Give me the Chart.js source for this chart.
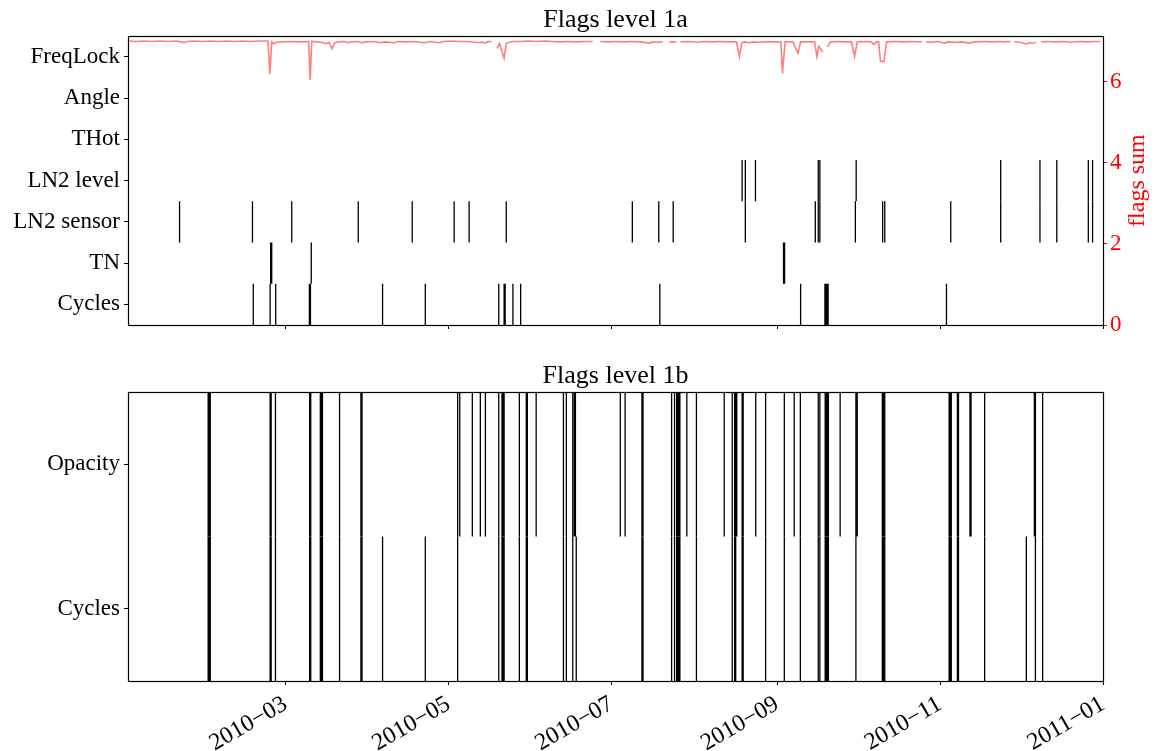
<!DOCTYPE html>
<html>
<head>
<meta charset="utf-8">
<script src="https://cdn.jsdelivr.net/npm/chart.js@4.4.1/dist/chart.umd.min.js"></script>
<style>
  html, body { margin: 0; padding: 0; background: #fff; overflow: hidden; }
  #wrap { position: relative; width: 1156px; height: 751px; }
  canvas { position: absolute; left: 0; }
  #c1 { top: 0; }
  #c2 { top: 345px; }
</style>
</head>
<body>
<div id="wrap">
  <canvas id="c1" width="1156" height="345"></canvas>
  <canvas id="c2" width="1156" height="406"></canvas>
</div>
<script>
// Time is counted in days since 2010-01-01 (the x axis runs 0 .. 365).

// Level 1a flag rows, bottom to top
const rows1a = ['Cycles', 'TN', 'LN2 sensor', 'LN2 level', 'THot', 'Angle', 'FreqLock'];
const cycles1a = [46.9, 53.2, 55.3, 67.9, 68.3, 95.3, 111.3, 138.8, 140.8, 141.2, 144.1, 147.0,
                  199.1, 251.8, 260.9, 261.3, 261.7, 262.1, 306.4];
const tn1a = [53.4, 53.8, 68.6, 245.4, 245.8];
const ln2Sensor1a = [19.3, 46.6, 61.3, 86.2, 106.4, 122.1, 127.7, 141.6, 188.8, 198.7, 204.1, 231.1,
                     257.3, 258.4, 259.0, 272.3, 282.5, 283.3, 308.0, 326.7, 341.4, 347.7, 359.5, 361.1];
const ln2Level1a = [229.9, 231.1, 234.9, 258.4, 259.0, 272.6, 326.7, 341.4, 347.7, 359.5, 361.1];
const tHot1a = [];
const angle1a = [];
const freqLock1a = [];

// Daily sum of the level 1a flags (null = no data)
const sumDays = [0.5, 3, 6, 9, 12, 15, 18, 20, 21, 22, 25, 28, 31, 34, 37, 40, 43, 46, 49, 52.4,
  53.1, 53.8, 54.6, 55.4, 58, 61, 64, 67.6, 68.2, 68.8, 71, 73.2, 74.1, 75.2, 76.4, 77.3, 79, 81,
  82.6, 83.5, 86, 87.8, 89, 92, 94.8, 96, 99.8, 101, 104, 107, 111, 113, 116.6, 118, 121, 124, 127,
  130, 131.8, 132.6, 133.5, 135, 136, 137, 138.1, 139.1, 140.8, 141.6, 142.8, 144, 147, 150, 153,
  156, 159, 162, 165, 168, 171, 174, 175.5, 176.8, 180, 183, 186, 189, 192, 195.2, 196.5, 198,
  200.2, 201.5, 202.7, 205.2, 206, 206.9, 210, 213, 216, 219, 222, 225, 227.8, 228.9, 229.8, 231,
  232.5, 234, 236, 239, 242, 244.4, 245.0, 246.0, 248.9, 250.8, 251.8, 254, 257.0, 257.9, 258.6,
  260.1, 261, 261.8, 263.0, 266, 268, 270.8, 272.0, 273.0, 276, 278.2, 279.2, 280.2, 281.0, 281.7,
  283.0, 284.0, 287, 290, 293, 296, 297.2, 298, 298.8, 301, 303, 305.7, 307, 310, 312, 315, 317,
  320, 323, 326, 328, 330.4, 331.2, 331.9, 334, 336.3, 337.5, 338.5, 340.0, 341, 341.9, 344, 347,
  350, 353, 356, 359, 362, 364.1];
const sumValues = [7.0, 6.99, 7.0, 6.99, 7.0, 6.99, 7.0, 6.98, 6.96, 6.99, 7.0, 6.99, 7.0, 6.99,
  7.0, 6.99, 7.0, 6.99, 7.0, 7.0,
  6.19, 6.98, 6.93, 6.97, 6.98, 6.99, 6.98, 6.99, 6.04, 6.99, 6.98, 6.96, 6.93, 6.97, 6.81, 6.96,
  6.98, 6.99, 6.96, 6.98, 6.99, 6.96, 6.98, 6.99, 6.96, 6.98, 6.96, 6.99, 6.98, 6.99, 6.96, 6.99,
  6.96, 6.99, 7.0, 6.99, 6.99,
  6.97, 6.96, 6.98, 6.95, 6.99, 6.99, null, 6.82, 6.94, 6.58, 6.95, 6.97, 6.99, 6.99, 7.0, 6.99,
  7.0, 6.99, 6.98, 6.99, 6.98, 6.99, 6.99, null, 6.99, 6.98, 6.99, 6.98, 6.99, 6.98, 6.95, 6.98,
  6.97,
  6.98, null, 6.98, 6.98, null, 6.98, 6.99, 6.97, 6.99, 6.98, 6.99, 6.98, 6.98, 6.62, 6.96, 6.98,
  6.96, 6.98, 6.97, 6.98, 6.98, 6.98, 6.21, 6.98, 6.98, 6.70, 6.98, 6.98, 6.98, 6.62, 6.87,
  6.73, null, 6.85, 6.98, 6.99, 6.98, 6.98, 6.62, 6.98, 6.99, 6.98, 6.92, 6.98, 6.98, 6.50,
  6.50, 6.98, 6.99, 6.98, 6.99, 6.98, 6.99, null, 6.98, 6.97, 6.99, 6.95, 6.98, 6.97, 6.98, 6.95,
  6.98,
  6.99, 6.98, 6.99, 6.98, 6.99, null, 6.98, 6.97, 6.93, 6.96, 6.94, 6.98, null, 6.98, 6.99, 6.98,
  6.99, 6.97, 6.99, 6.98, 6.99, 6.99];

// Level 1b flag rows, bottom to top
const rows1b = ['Cycles', 'Opacity'];
const cycles1b = [30.0, 30.4, 30.8, 53.2, 53.6, 55.2, 68.0, 68.4, 72.0, 72.4, 72.8, 79.2, 87.2, 87.6,
  95.3, 111.3, 123.4, 138.8, 140.0, 140.4, 140.8, 146.5, 149.1, 149.5, 163.0, 164.1, 166.5, 167.8,
  192.4, 192.8, 203.5, 204.6, 205.4, 205.8, 206.2, 206.6, 212.8, 226.2, 227.1, 227.5, 229.9, 230.3,
  238.7, 245.7, 251.7, 258.4, 259.0, 261.0, 261.4, 261.8, 262.2, 272.5, 282.4, 282.8, 283.3,
  307.4, 307.8, 308.2, 310.5, 310.9, 320.7, 336.3, 339.7, 342.4];
const opacity1b = [30.0, 30.4, 30.8, 53.2, 53.6, 55.2, 68.0, 68.4, 72.0, 72.4, 72.8, 79.2, 87.2, 87.6,
  123.4, 124.2, 128.9, 131.9, 133.8, 138.8, 140.0, 140.4, 140.8, 146.5, 149.1, 149.5, 152.8, 163.0,
  164.1, 166.5, 167.1, 167.5, 184.3, 186.1, 192.4, 192.8, 203.5, 204.6, 205.4, 205.8, 206.2, 206.6,
  209.2, 212.8, 223.2, 226.2, 227.1, 227.5, 227.9, 229.9, 230.3, 235.0, 238.7, 245.7, 249.4, 251.7,
  258.4, 259.0, 261.0, 261.4, 261.8, 262.2, 266.6, 272.5, 273.0, 282.4, 282.8, 283.3, 307.4, 307.8,
  308.2, 310.5, 310.9, 315.2, 315.6, 320.7, 339.3, 339.7, 342.4];

// Month ticks on the time axis
const monthTicks = [59, 120, 181, 243, 304, 365];
const monthLabels = ['2010\u221203', '2010\u221205', '2010\u221207', '2010\u221209', '2010\u221211', '2011\u221201'];

const FONT = '"Liberation Serif", "Times New Roman", serif';
Chart.defaults.font.family = FONT;
Chart.defaults.color = '#000';

// One vertical tick per flagged time, spanning the height of its row
function rowSegments(days, row) {
  const pts = [];
  for (const d of days) {
    pts.push({ x: d, y: row - 0.5 }, { x: d, y: row + 0.5 }, { x: d, y: null });
  }
  return pts;
}

function flagDataset(days, row) {
  return {
    type: 'line',
    data: rowSegments(days, row),
    borderColor: '#000',
    borderWidth: 1.3,
    pointRadius: 0,
    spanGaps: false,
    yAxisID: 'y',
    order: 2
  };
}

// Box around the plotting area
const framePlugin = {
  id: 'frame',
  afterDraw(chart) {
    const { ctx, chartArea: a } = chart;
    ctx.save();
    ctx.strokeStyle = '#000';
    ctx.lineWidth = 1.2;
    ctx.strokeRect(Math.round(a.left) + 0.5, Math.round(a.top) + 0.5,
                   Math.round(a.right) - Math.round(a.left), Math.round(a.bottom) - Math.round(a.top));
    ctx.restore();
  }
};

// Right-hand axis title, reading bottom to top
const rightTitlePlugin = {
  id: 'rightTitle',
  afterDraw(chart, args, opts) {
    const s = chart.scales.y2;
    if (!s || !opts.text) return;
    const { ctx } = chart;
    ctx.save();
    ctx.translate(s.right - 18, (s.top + s.bottom) / 2);
    ctx.rotate(-Math.PI / 2);
    ctx.fillStyle = opts.color;
    ctx.font = '24px ' + FONT;
    ctx.textAlign = 'center';
    ctx.textBaseline = 'middle';
    ctx.fillText(opts.text, 0, 0);
    ctx.restore();
  }
};

function timeAxis(showLabels, height) {
  return {
    type: 'linear',
    min: 0,
    max: 365,
    afterBuildTicks(scale) { scale.ticks = monthTicks.map(v => ({ value: v })); },
    afterFit(scale) { scale.height = height; },
    grid: { drawOnChartArea: false, tickLength: 4, tickColor: '#000', tickWidth: 1 },
    border: { display: false },
    ticks: {
      display: showLabels,
      autoSkip: false,
      minRotation: 30,
      maxRotation: 30,
      padding: 5,
      font: { size: 24 },
      color: '#000',
      callback(value, index) { return monthLabels[index]; }
    }
  };
}

function rowAxis(names) {
  return {
    type: 'linear',
    position: 'left',
    min: -0.5,
    max: names.length - 0.5,
    afterBuildTicks(scale) { scale.ticks = names.map((n, i) => ({ value: i })); },
    afterFit(scale) { scale.width = 128; },
    grid: { drawOnChartArea: false, tickLength: 4, tickColor: '#000', tickWidth: 1 },
    border: { display: false },
    ticks: {
      autoSkip: false,
      padding: 4,
      font: { size: 23 },
      color: '#000',
      callback(value) { return names[Math.round(value)]; }
    }
  };
}

function titleOpts(text, top, bottom) {
  return {
    display: true,
    text: text,
    fullSize: false,
    color: '#000',
    font: { size: 26, weight: 'normal' },
    padding: { top: top, bottom: bottom }
  };
}

// Upper panel: level 1a flags plus the flag sum on the right axis
const rowData1a = [cycles1a, tn1a, ln2Sensor1a, ln2Level1a, tHot1a, angle1a, freqLock1a];
const datasets1a = rowData1a.map((days, i) => flagDataset(days, i));
datasets1a.push({
  type: 'line',
  data: sumDays.map((d, i) => ({ x: d, y: sumValues[i] })),
  borderColor: 'rgba(255, 0, 0, 0.5)',
  borderWidth: 1.6,
  pointRadius: 0,
  spanGaps: false,
  tension: 0,
  yAxisID: 'y2',
  order: 1
});

new Chart(document.getElementById('c1'), {
  type: 'line',
  data: { datasets: datasets1a },
  plugins: [framePlugin, rightTitlePlugin],
  options: {
    responsive: false,
    animation: false,
    events: [],
    layout: { padding: { top: 0, left: 0, right: 0, bottom: 0 } },
    plugins: {
      legend: { display: false },
      tooltip: { enabled: false },
      title: titleOpts('Flags level 1a', 5, 0),
      rightTitle: { text: 'flags sum', color: '#ff0000' }
    },
    scales: {
      x: timeAxis(false, 20),
      y: rowAxis(rows1a),
      y2: {
        type: 'linear',
        position: 'right',
        min: 0,
        max: 7.12,
        afterBuildTicks(scale) { scale.ticks = [0, 2, 4, 6].map(v => ({ value: v })); },
        afterFit(scale) { scale.width = 53; },
        grid: { drawOnChartArea: false, tickLength: 4, tickColor: '#ff0000', tickWidth: 1 },
        border: { display: false },
        ticks: { padding: 3, font: { size: 23 }, color: '#ff0000' }
      }
    }
  }
});

// Lower panel: level 1b flags
const rowData1b = [cycles1b, opacity1b];
new Chart(document.getElementById('c2'), {
  type: 'line',
  data: { datasets: rowData1b.map((days, i) => flagDataset(days, i)) },
  plugins: [framePlugin],
  options: {
    responsive: false,
    animation: false,
    events: [],
    layout: { padding: { top: 0, left: 0, right: 53, bottom: 0 } },
    plugins: {
      legend: { display: false },
      tooltip: { enabled: false },
      title: titleOpts('Flags level 1b', 16, 0)
    },
    scales: {
      x: timeAxis(true, 70),
      y: rowAxis(rows1b)
    }
  }
});
</script>
</body>
</html>
